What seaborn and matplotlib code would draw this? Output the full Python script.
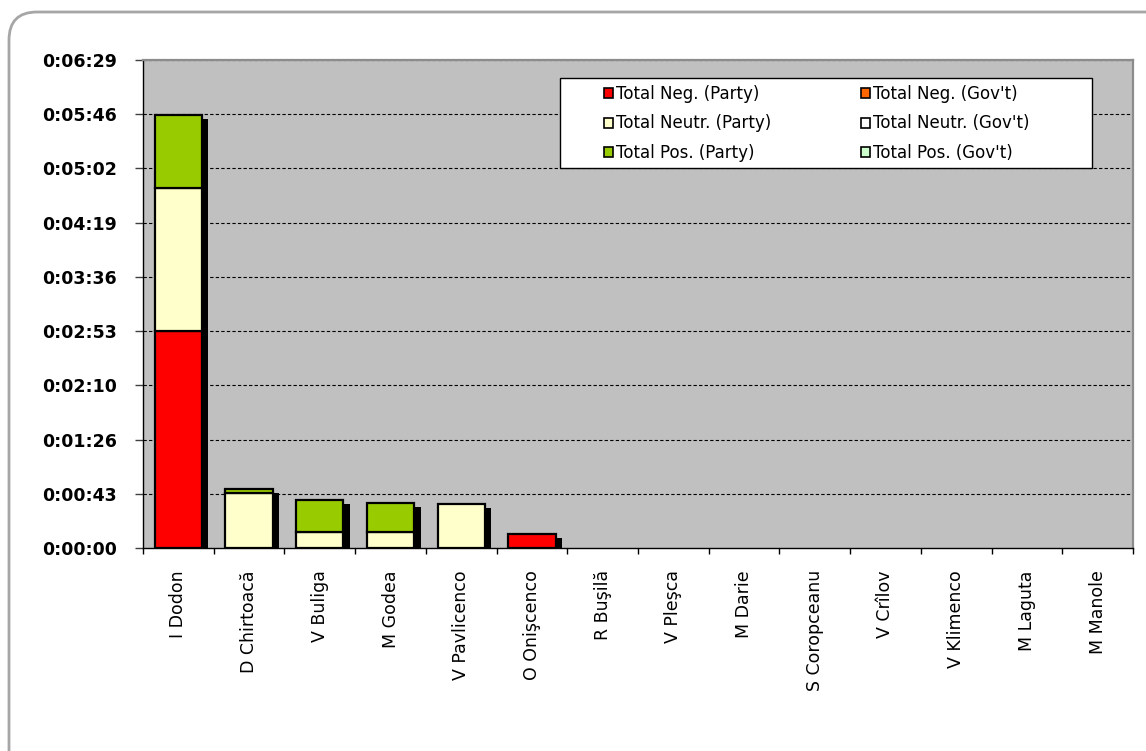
import numpy as np
import pandas as pd
import matplotlib
matplotlib.use("Agg")
import matplotlib.pyplot as plt
import seaborn as sns
from matplotlib import patheffects as pe
from matplotlib.patches import FancyBboxPatch, Patch, Rectangle
from matplotlib.transforms import IdentityTransform
from matplotlib.ticker import FixedLocator, FuncFormatter

# ---------------- data (seconds) ----------------
candidates = ["I Dodon", "D Chirtoacă", "V Buliga", "M Godea", "V Pavlicenco",
              "O Onişcenco", "R Buşilă", "V Pleşca", "M Darie", "S Coropceanu",
              "V Crîlov", "V Klimenco", "M Laguta", "M Manole"]
neg_party = [173, 0, 0, 0, 0, 11, 0, 0, 0, 0, 0, 0, 0, 0]
neutr_party = [114, 44, 13, 13, 35, 0, 0, 0, 0, 0, 0, 0, 0, 0]
pos_party = [58, 3, 25, 23, 0, 0, 0, 0, 0, 0, 0, 0, 0, 0]
neg_gov = [0] * 14
neutr_gov = [0] * 14
pos_gov = [0] * 14

series_names = ["Total Neg. (Party)", "Total Neutr. (Party)", "Total Pos. (Party)",
                "Total Neg. (Gov't)", "Total Neutr. (Gov't)", "Total Pos. (Gov't)"]
series_values = [neg_party, neutr_party, pos_party, neg_gov, neutr_gov, pos_gov]
series_colors = ["#FF0000", "#FFFFCC", "#99CC00", "#FF6600", "#FFFFFF", "#CCFFCC"]

ytick_step = 43.2  # Excel time axis step (1/2000 day)
ymax = 388.8

# ---------------- figure ----------------
sns.set_theme(style="white")
plt.rcParams['font.family'] = ['DejaVu Sans']
plt.rcParams['text.color'] = 'black'
plt.rcParams['xtick.color'] = 'black'
plt.rcParams['ytick.color'] = 'black'
plt.rcParams['xtick.labelcolor'] = 'black'
plt.rcParams['ytick.labelcolor'] = 'black'

fig = plt.figure(figsize=(11.46, 7.51), dpi=100)
fig.patch.set_facecolor("white")

# outer rounded chart border (pixel coordinates)
border = FancyBboxPatch((9, -40), 1180, 751 - 12 + 40,
                        boxstyle="round,pad=0,rounding_size=28",
                        transform=IdentityTransform(), facecolor="none",
                        edgecolor="#A6A6A6", linewidth=2.0)
fig.add_artist(border)

ax = fig.add_axes([143 / 1146, 1 - 548 / 751, 990 / 1146, 488 / 751])
ax.set_facecolor("#C0C0C0")

totals = np.sum(np.array(series_values, dtype=float), axis=0)
bar_w = 0.67

# shadows
sns.barplot(x=candidates, y=totals, color="black", saturation=1, width=bar_w,
            linewidth=0, ax=ax, zorder=2,
            path_effects=[pe.SimplePatchShadow(offset=(4.6, -3.0),
                                               shadow_rgbFace="black", alpha=1.0)])

bottom = np.zeros(len(candidates))
for name, vals, col in zip(series_names, series_values, series_colors):
    v = np.array(vals, dtype=float)
    sns.barplot(x=candidates, y=v, bottom=bottom, color=col, saturation=1,
                width=bar_w, edgecolor="black", linewidth=1.6, ax=ax, zorder=3)
    bottom = bottom + v

for p in ax.patches:
    if p.get_height() == 0:
        p.set_visible(False)

# axes
ax.set_xlim(-0.5, len(candidates) - 0.5)
ax.set_ylim(0, ymax)
ax.set_xlabel("")
ax.set_ylabel("")

yt = [ytick_step * i for i in range(10)]
ax.yaxis.set_major_locator(FixedLocator(yt))

def fmt(v, pos):
    s = int(round(v))
    return f"{s // 3600}:{(s % 3600) // 60:02d}:{s % 60:02d}"

ax.yaxis.set_major_formatter(FuncFormatter(fmt))
ax.tick_params(axis="y", which="major", left=True, length=5.8, width=1,
               color="#404040", direction="out", pad=13, labelsize=12.5)
for lab in ax.get_yticklabels():
    lab.set_fontweight("bold")

ax.set_xticks(range(len(candidates)))
ax.set_xticklabels(candidates, rotation=90, fontsize=12.5)
ax.tick_params(axis="x", which="major", length=0, pad=16)
ax.set_xticks(np.arange(-0.5, len(candidates), 1.0), minor=True)
ax.tick_params(axis="x", which="minor", bottom=True, length=4, width=1,
               color="black", direction="out")

ax.grid(False)
for y in yt[1:]:
    ax.axhline(y, color="black", lw=0.8, ls=(0, (3, 2)), zorder=1)

ax.spines["left"].set_color("black")
ax.spines["bottom"].set_color("black")
ax.spines["left"].set_linewidth(1.0)
ax.spines["bottom"].set_linewidth(1.0)
ax.spines["top"].set_color("#8C8C8C")
ax.spines["right"].set_color("#8C8C8C")
ax.spines["top"].set_linewidth(1.6)
ax.spines["right"].set_linewidth(1.6)

# legend box
lx0, lx1 = (560 - 143) / 990, (1092 - 143) / 990
ly0, ly1 = 1 - (168 - 60) / 488, 1 - (78 - 60) / 488
ax.add_patch(Rectangle((lx0, ly0), lx1 - lx0, ly1 - ly0, transform=ax.transAxes,
                       facecolor="white", edgecolor="black", lw=1.0, zorder=5))
handles = [Patch(facecolor=c, edgecolor="black", linewidth=1.2) for c in series_colors]
leg = ax.legend(handles, series_names, ncol=2, frameon=False,
                loc="upper left",
                bbox_to_anchor=((604 - 143) / 990, 1 - (85 - 60) / 488),
                borderpad=0, borderaxespad=0, fontsize=12,
                handlelength=0.55, handleheight=0.55, handletextpad=0.2,
                labelspacing=0.69, columnspacing=5.35)
leg.set_zorder(6)

fig.savefig("out.png", dpi=100)
